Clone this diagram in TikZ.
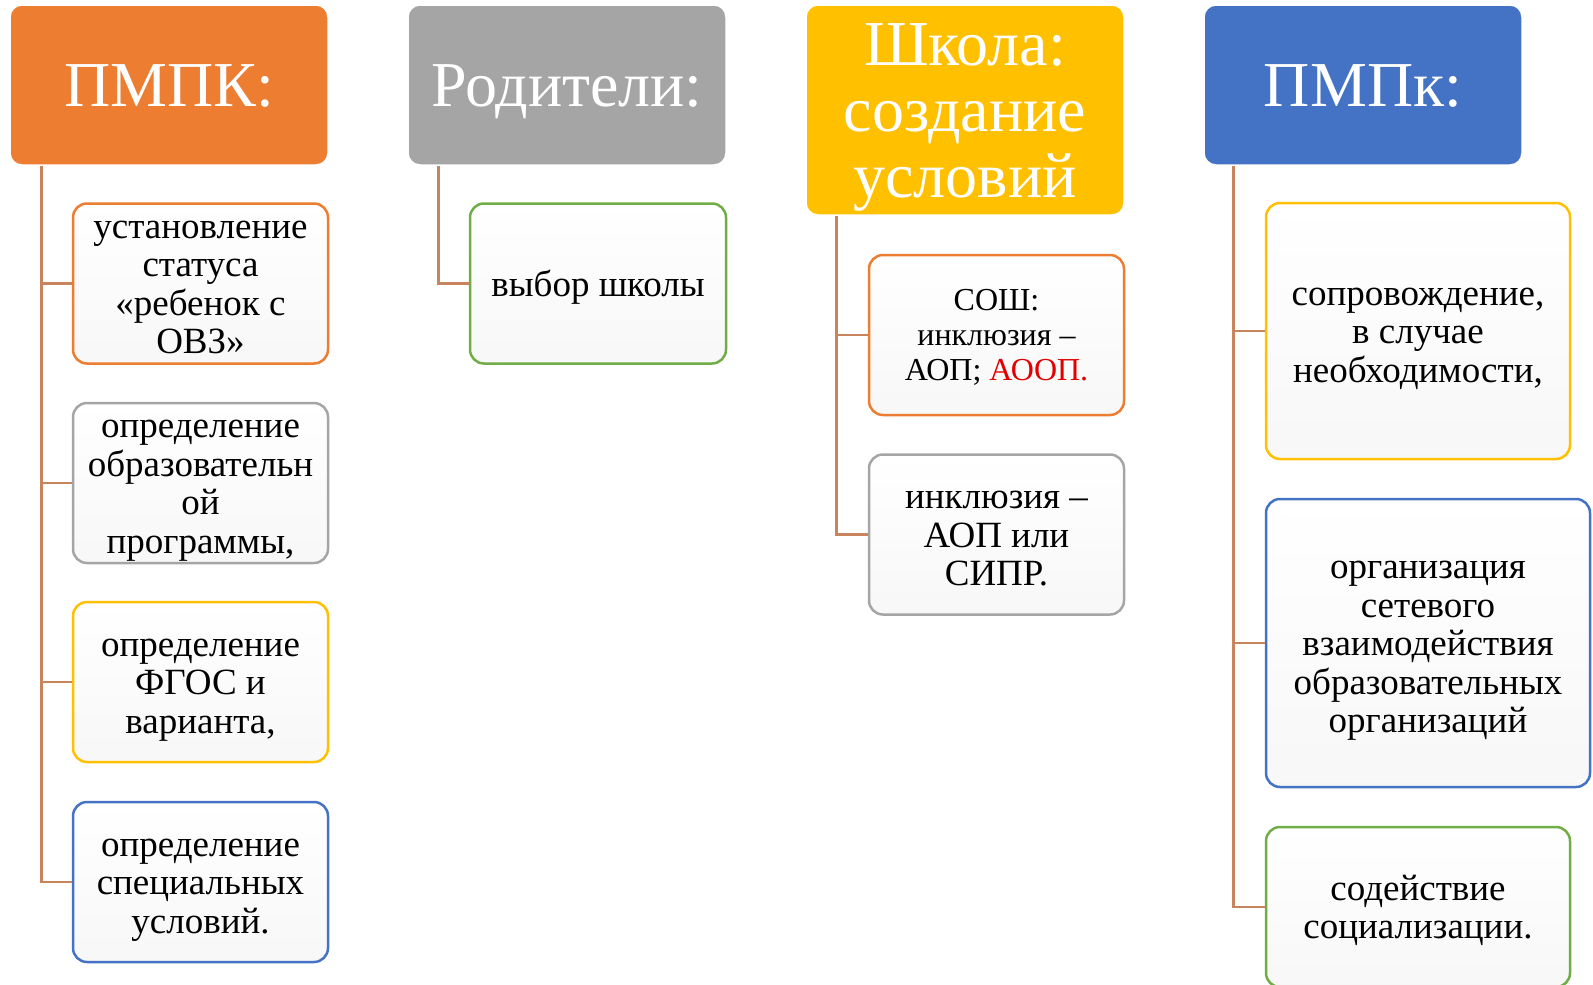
\documentclass[tikz,border=0pt]{standalone}
\usepackage{fontspec}
\setmainfont{Liberation Serif}
\definecolor{pmpkc}{RGB}{237,125,49}
\definecolor{grayc}{RGB}{165,165,165}
\definecolor{goldc}{RGB}{255,192,0}
\definecolor{bluec}{RGB}{68,114,196}
\definecolor{greenc}{RGB}{112,173,71}
\definecolor{linkc}{RGB}{200,132,92}
\definecolor{aoopred}{RGB}{226,0,0}
\begin{document}
\begin{tikzpicture}[x=1pt, y=-1pt,
  head/.style = {shape=rectangle, rounded corners=12pt, draw=white,
    line width=1.5pt, text=white, align=center, inner sep=0pt,
    minimum width=318pt, minimum height=160pt,
    text height=56pt, text depth=14pt,
    font=\fontsize{64}{66}\selectfont},
  item/.style = {shape=rectangle, rounded corners=14pt, line width=2.5pt,
    align=center, inner sep=0pt, minimum width=255pt, minimum height=160pt,
    top color=white, bottom color=gray!6, text depth=8pt,
    font=\fontsize{37}{38.5}\selectfont},
  rows/.code = {\pgfmathsetmacro\rowsht{38.5*#1-5.5}%
    \pgfkeysalso{text height=\rowsht pt}},
  link/.style = {draw=linkc, line width=2.5pt}]
  \useasboundingbox (0,0) rectangle (1593,985);
  % headers
  \node[head, fill=pmpkc] (pmpk) at (169,85) {ПМПК:};
  \node[head, fill=grayc] (parents) at (567,85) {Родители:};
  \node[head, fill=goldc, minimum height=210pt, text height=188pt] (school)
    at (965,110) {Школа:\\создание\\условий};
  \node[head, fill=bluec] (pmpkk) at (1363,85) {ПМПк:};
  % first column
  \node[item, rows=4, draw=pmpkc] (status) at (200.5,283.5)
    {установление\\статуса\\«ребенок с\\ОВЗ»};
  \node[item, rows=4, draw=grayc] (program) at (200.5,483)
    {определение\\образовательн\\ой\\программы,};
  \node[item, rows=3, draw=goldc] (fgos) at (200.5,682)
    {определение\\ФГОС и\\варианта,};
  \node[item, rows=3, draw=bluec] (special) at (200.5,882)
    {определение\\специальных\\условий.};
  % second column
  \node[item, rows=1, draw=greenc, minimum width=256pt] (choice) at (598,283.5)
    {выбор школы};
  % third column
  \node[item, draw=pmpkc, text height=97pt, text depth=7pt,
    font=\fontsize{32}{35}\selectfont] (sosh) at (996.5,335)
    {СОШ:\\инклюзия –\\АОП; \textcolor{aoopred}{АООП.}};
  \node[item, rows=3, draw=grayc] (sipr) at (996.5,534.5)
    {инклюзия –\\АОП или\\СИПР.};
  % fourth column
  \node[item, rows=3, draw=goldc, minimum width=304pt, minimum height=256pt]
    (escort) at (1418,331) {сопровождение,\\в случае\\необходимости,};
  \node[item, rows=5, draw=bluec, minimum width=324pt, minimum height=288pt]
    (network) at (1428,643)
    {организация\\сетевого\\взаимодействия\\образовательных\\организаций};
  \node[item, rows=2, draw=greenc, minimum width=304pt] (social) at (1418,907)
    {содействие\\социализации.};
  % connectors
  \foreach \n in {status,program,fgos,special}
    \draw[link] ([xshift=32pt]pmpk.south west) |- (\n.west);
  \draw[link] ([xshift=31pt]parents.south west) |- (choice.west);
  \foreach \n in {sosh,sipr}
    \draw[link] ([xshift=31pt]school.south west) |- (\n.west);
  \foreach \n in {escort,network,social}
    \draw[link] ([xshift=30pt]pmpkk.south west) |- (\n.west);
\end{tikzpicture}
\end{document}
